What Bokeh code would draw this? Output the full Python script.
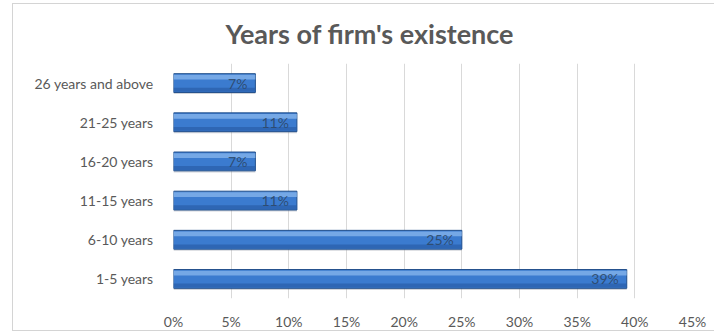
from bokeh.plotting import figure
from bokeh.models import ColumnDataSource, FactorRange, Range1d, FixedTicker
from bokeh.transform import dodge
from bokeh.embed import file_html
from bokeh.resources import INLINE
from bokeh.core.properties import value

categories = ["1-5 years", "6-10 years", "11-15 years", "16-20 years", "21-25 years", "26 years and above"]
shares = [39.3, 25.0, 10.7, 7.1, 10.7, 7.1]
share_labels = ["39%", "25%", "11%", "7%", "11%", "7%"]
tick_values = [0, 5, 10, 15, 20, 25, 30, 35, 40, 45]
tick_labels = ["0%", "5%", "10%", "15%", "20%", "25%", "30%", "35%", "40%", "45%"]
title_text = "Years of firm's existence"

src = ColumnDataSource(dict(cat=categories, val=shares, lbl=share_labels))

frame_left, frame_bottom = 173, 298

line_bg = ("linear-gradient(#d4d4d4,#d4d4d4) 12px 3px / 1px 327px no-repeat, "
           "linear-gradient(#d4d4d4,#d4d4d4) 12px 3px / 702px 1px no-repeat, "
           "linear-gradient(#d4d4d4,#d4d4d4) 12px 330px / 702px 1px no-repeat, white")

p = figure(width=714, height=333, y_range=FactorRange(*categories), x_range=Range1d(0, 45),
           output_backend="svg", toolbar_location=None, title=title_text,
           min_border_left=frame_left, min_border_right=22, min_border_top=62, min_border_bottom=35,
           styles={"background": line_bg})
p.outline_line_color = None
p.background_fill_color = "white"
p.border_fill_color = None

p.title.align = "left"
p.title.offset = 52
p.title.standoff = 28
p.title.text_font = "Lato"
p.title.text_font_style = "bold"
p.title.text_font_size = "27px"
p.title.text_color = "#595959"

# axes
p.xaxis.ticker = FixedTicker(ticks=tick_values)
p.xaxis.major_label_overrides = {t: l for t, l in zip(tick_values, tick_labels)}
for ax in (p.xaxis, p.yaxis):
    ax.axis_line_color = None
    ax.major_tick_line_color = None
    ax.minor_tick_line_color = None
    ax.major_label_text_color = "#595959"
    ax.major_label_text_font = "Lato"
    ax.major_label_text_font_size = "14px"
p.yaxis.major_label_standoff = 14
p.xaxis.major_label_standoff = 8
p.xgrid.grid_line_color = "#d9d9d9"
p.ygrid.grid_line_color = None

# shadow
p.hbar(y=dodge("cat", -0.04, range=p.y_range), left=0, right="val", height=0.48, source=src,
       fill_color="#7f8794", fill_alpha=0.35, line_color=None)
# main bar
p.hbar(y="cat", left=0, right="val", height=0.48, source=src,
       fill_color="#3b7bcf", line_color="#23508c", line_width=1)
# gloss band
p.hbar(y=dodge("cat", 0.15, range=p.y_range), left=0, right="val", height=0.12, source=src,
       fill_color="#8fbcf0", fill_alpha=0.7, line_color=None)
# lower darker band
p.hbar(y=dodge("cat", -0.17, range=p.y_range), left=0, right="val", height=0.1, source=src,
       fill_color="#2a5ea8", fill_alpha=0.7, line_color=None)

p.text(x="val", y="cat", text="lbl", source=src, text_align="right", text_baseline="middle",
       x_offset=-8, text_color="#2e4868", text_alpha=0.9, text_font=value("Lato"), text_font_size="14px")

open("out.html", "w").write(file_html(p, INLINE))
